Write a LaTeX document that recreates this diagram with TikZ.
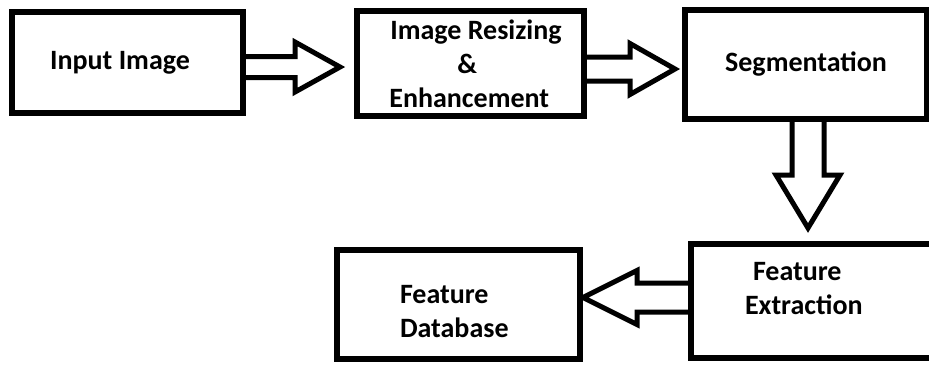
\documentclass[tikz,border=0pt]{standalone}
\usepackage{fontspec}
\setmainfont{Carlito}
\usetikzlibrary{calc}

\tikzset{
  box/.style={draw, line width=6pt, outer sep=0pt, inner sep=0pt,
    font=\fontsize{28}{34}\selectfont\bfseries},
  % hollow block arrow: shaft half width, head half width, head length
  fat/.style n args={3}{line width=5pt, to path={
    ($(\tikztostart)!#1!90:(\tikztotarget)$)
    -- ($(\tikztotarget)!#3!(\tikztostart)!#1!-90:(\tikztostart)$)
    -- ($(\tikztotarget)!#3!(\tikztostart)!#2!-90:(\tikztostart)$)
    -- (\tikztotarget)
    -- ($(\tikztotarget)!#3!(\tikztostart)!#2!90:(\tikztostart)$)
    -- ($(\tikztotarget)!#3!(\tikztostart)!#1!90:(\tikztostart)$)
    -- ($(\tikztostart)!#1!-90:(\tikztotarget)$)}}
}

\begin{document}
\begin{tikzpicture}[x=1pt, y=-1pt]
  \useasboundingbox (0,0) rectangle (929,365);
  % Top row
  \node[box, minimum width=231pt, minimum height=101pt]
    (inp) at (127.5,62.5) {\hspace*{-15pt}Input Image};
  \node[box, minimum width=227pt, minimum height=105pt, align=left]
    (res) at (470.5,63.5) {\hspace*{11pt}Image Resizing\\\hspace*{78pt}\&\\\hspace*{10pt}Enhancement};
  \node[box, minimum width=242pt, minimum height=109pt]
    (seg) at (806,64.5) {Segmentation};
  % Bottom row
  \node[box, minimum width=244pt, minimum height=114pt, text width=136pt, align=left, text height=20pt, text depth=61pt]
    (ext) at (813,301) {\hspace*{8pt}Feature\\Extraction};
  \node[box, minimum width=243pt, minimum height=109pt, text width=117pt, align=left, text height=20pt, text depth=22pt]
    (db) at (458.5,304.5) {Feature\\Database};
  % Arrow ends
  \coordinate (a1s) at ($(inp.east)+(0,4.5)$);
  \coordinate (a1e) at ($(res.west)+(-17,3.5)$);
  \coordinate (a2s) at ($(res.east)+(0,5.5)$);
  \coordinate (a2e) at ($(seg.west)+(-10,4.5)$);
  \coordinate (a3s) at ($(seg.south)+(2,0)$);
  \coordinate (a3e) at ($(ext.north)+(-5,-16)$);
  \coordinate (a4s) at ($(ext.west)+(0,-3.5)$);
  \coordinate (a4e) at ($(db.east)+(3,-7)$);
  % Block arrows
  \draw[fat={10.5pt}{25pt}{45pt}] (a1s) to (a1e);
  \draw[fat={12pt}{25.5pt}{45pt}] (a2s) to (a2e);
  \draw[fat={16pt}{32pt}{53pt}] (a3s) to (a3e);
  \draw[fat={14.5pt}{27pt}{54pt}] (a4s) to (a4e);
\end{tikzpicture}
\end{document}
